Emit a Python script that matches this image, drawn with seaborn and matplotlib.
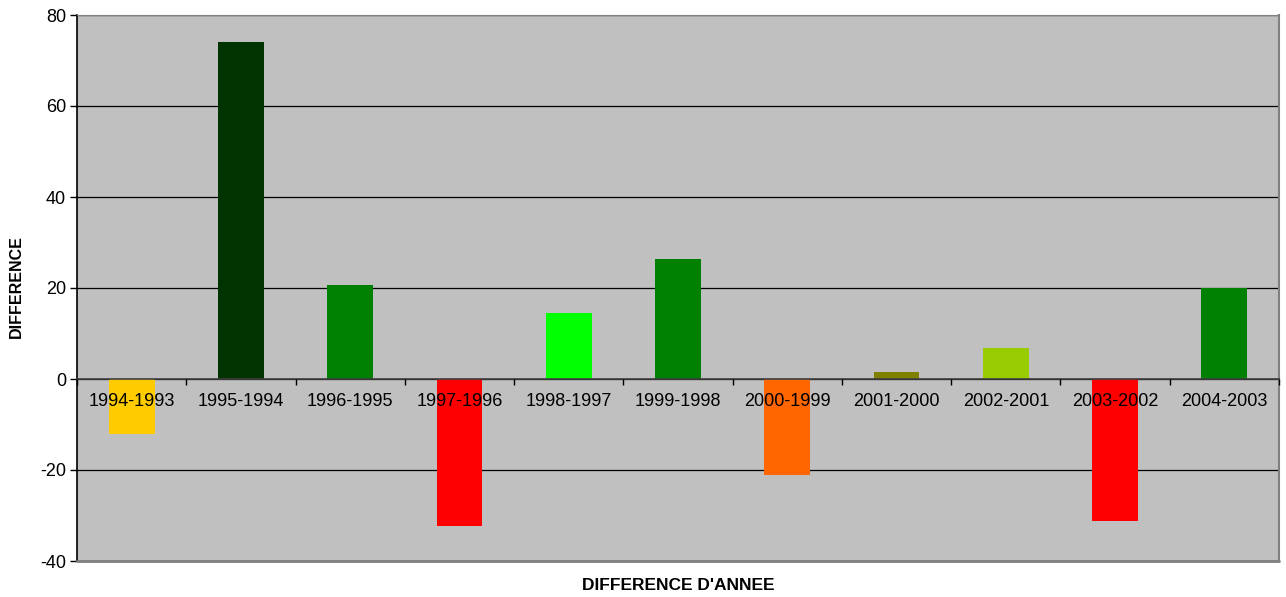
import matplotlib
matplotlib.use("Agg")
import matplotlib.pyplot as plt
import seaborn as sns
import pandas as pd
import numpy as np

periods = ["1994-1993", "1995-1994", "1996-1995", "1997-1996", "1998-1997",
           "1999-1998", "2000-1999", "2001-2000", "2002-2001", "2003-2002",
           "2004-2003"]
differences = [-12.0, 74.0, 20.7, -32.2, 14.4, 26.4, -21.1, 1.5, 6.8, -31.3, 20.0]
bar_colors = ["#FFCC00", "#003300", "#008000", "#FF0000", "#00FF00", "#008000",
              "#FF6600", "#808000", "#99CC00", "#FF0000", "#008000"]
y_ticks = [-40, -20, 0, 20, 40, 60, 80]

sns.set_theme(style="white")
plt.rcParams["font.family"] = ["Liberation Sans", "DejaVu Sans"]
plt.rcParams["text.color"] = "black"

df = pd.DataFrame({"periode": periods, "difference": differences})

fig = plt.figure(figsize=(12.86, 5.97), dpi=100)
ax = fig.add_axes([77 / 1286, 1 - 561 / 597, 1202 / 1286, 546 / 597])
ax.set_facecolor("#C0C0C0")

sns.barplot(data=df, x="periode", y="difference", hue="periode",
            palette=dict(zip(periods, bar_colors)), width=0.42,
            legend=False, ax=ax, saturation=1, linewidth=0)

ax.set_ylim(-40, 80)
ax.set_xlim(-0.5, len(periods) - 0.5)
ax.set_yticks(y_ticks)
ax.set_yticklabels([str(v) for v in y_ticks], fontsize=13, color="black")
ax.tick_params(axis="y", direction="out", length=5, width=1, color="black",
               left=True, pad=3)

# horizontal gridlines behind the bars, category axis on top of them
ax.yaxis.grid(True, color="black", linewidth=0.9)
ax.set_axisbelow(True)
ax.xaxis.set_zorder(3)

# category axis crossing at zero
ax.spines["bottom"].set_position(("data", 0))
ax.spines["bottom"].set_color("#404040")
ax.spines["bottom"].set_linewidth(1.2)
ax.spines["left"].set_color("black")
ax.spines["left"].set_linewidth(1.2)
ax.spines["right"].set_color("#808080")
ax.spines["right"].set_linewidth(1.5)
ax.spines["top"].set_color("#808080")
ax.spines["top"].set_linewidth(0.8)
ax.axhline(-40, color="#808080", linewidth=2, clip_on=False, zorder=3)

ax.set_xticks(np.arange(len(periods) + 1) - 0.5)
ax.set_xticklabels([])
ax.set_xticks(np.arange(len(periods)), minor=True)
ax.set_xticklabels(periods, minor=True, fontsize=13, color="black")
ax.tick_params(axis="x", which="major", direction="out", length=4, width=1,
               color="black", bottom=True)
ax.tick_params(axis="x", which="minor", length=0, pad=10, bottom=True)

ax.set_xlabel("")
ax.set_ylabel("")
fig.text(678 / 1286, 1 - 586 / 597, "DIFFERENCE D'ANNEE", ha="center",
         va="center", fontsize=12.5, fontweight="bold", color="black")
fig.text(16 / 1286, 1 - 287 / 597, "DIFFERENCE", ha="center", va="center",
         rotation=90, fontsize=11.5, fontweight="bold", color="black")

fig.savefig("out.png", dpi=100, facecolor="white")
